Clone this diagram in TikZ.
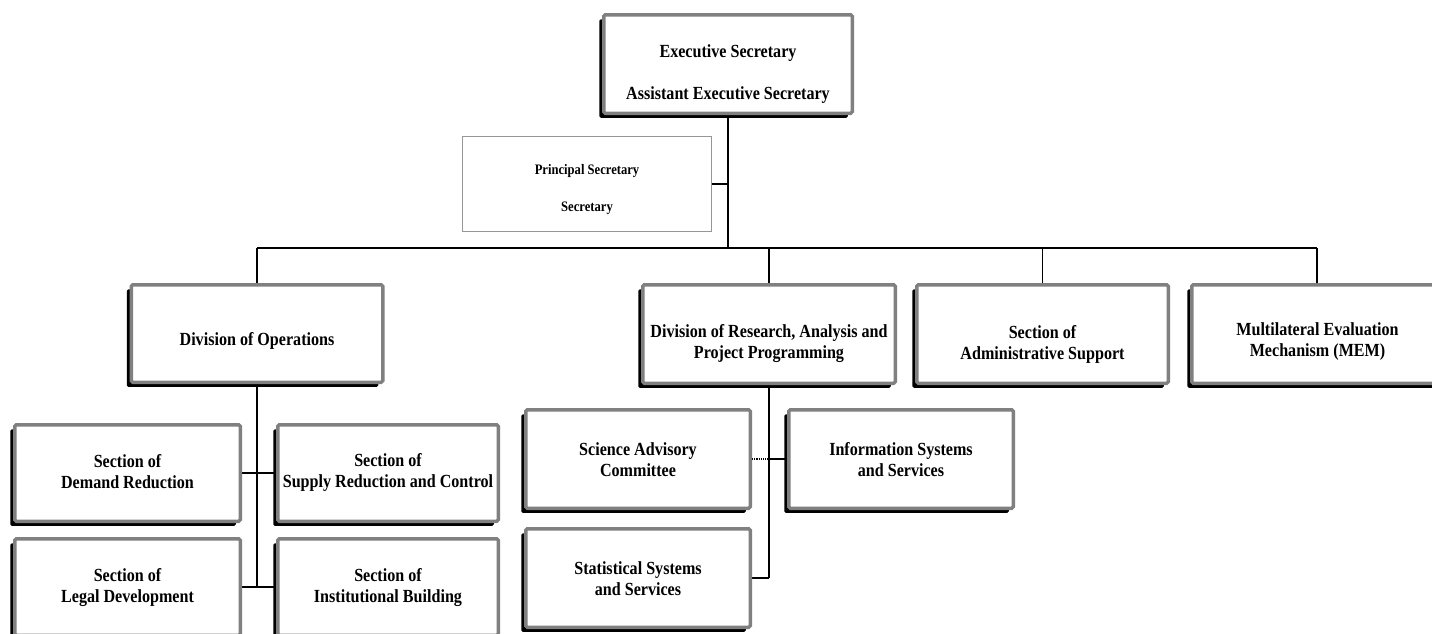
\documentclass[tikz,border=0pt]{standalone}
\usepackage{fontspec}
\setmainfont{Liberation Serif}[FakeStretch=0.87]
\usetikzlibrary{shadows,calc}
\pgfdeclarelayer{bg}
\pgfsetlayers{bg,main}
\definecolor{boxgray}{RGB}{128,128,128}
\definecolor{thingray}{RGB}{150,150,150}
\begin{document}
\begin{tikzpicture}[x=1pt,y=-1pt,
  obox/.style={draw=boxgray, line width=3.5pt, fill=white, rounded corners=1.5pt, inner sep=0pt,
     drop shadow={shadow xshift=-4.5pt, shadow yshift=-4.5pt, opacity=1, fill=black}},
  pbox/.style={draw=thingray, line width=1.2pt, fill=white, inner sep=0pt},
  txt/.style={font=\bfseries\fontsize{18.5}{21}\selectfont, align=center, inner sep=0pt},
  stxt/.style={font=\bfseries\fontsize{14.5}{16}\selectfont, align=center, inner sep=0pt},
  conn/.style={line width=1.2pt},
  trunk/.style={line width=1.8pt}]
\useasboundingbox (0,0) rectangle (1432,633);
\clip (0,0) rectangle (1432,633);

% boxes
\node[obox, minimum width=248.5pt, minimum height=98.5pt] (exec) at (728,64) {};
\node[pbox, minimum width=248.8pt, minimum height=94.8pt] (prin) at (587,184) {};
\node[obox, minimum width=251.5pt, minimum height=97.5pt] (divops) at (257,333.5) {};
\node[obox, minimum width=252.5pt, minimum height=98.5pt] (divres) at (769,334) {};
\node[obox, minimum width=251.5pt, minimum height=98.5pt] (admin) at (1042.5,334) {};
\node[obox, minimum width=251.5pt, minimum height=98.5pt] (mem) at (1317.5,334) {};
\node[obox, minimum width=225.5pt, minimum height=96.5pt] (demand) at (127.5,473) {};
\node[obox, minimum width=220.5pt, minimum height=96.5pt] (supply) at (388,473) {};
\node[obox, minimum width=225.5pt, minimum height=96.5pt] (legal) at (127.5,587) {};
\node[obox, minimum width=220.5pt, minimum height=96.5pt] (inst) at (388,587) {};
\node[obox, minimum width=224.5pt, minimum height=98.5pt] (science) at (638,459) {};
\node[obox, minimum width=224.5pt, minimum height=98.5pt] (info) at (901,459) {};
\node[obox, minimum width=224.5pt, minimum height=98.5pt] (stat) at (638,578) {};

% texts
\node[txt] (exec-t) at (728,74) {Executive Secretary\\[21pt]Assistant Executive Secretary};
\node[stxt] (prin-t) at (587,190) {Principal Secretary\\[21pt]Secretary};
\node[txt] (divops-t) at (257,341) {Division of Operations};
\node[txt] (divres-t) at (769,344) {Division of Research, Analysis and\\Project Programming};
\node[txt] (admin-t) at (1042.5,344) {Section of\\Administrative Support};
\node[txt] (mem-t) at (1317.5,341.5) {Multilateral Evaluation\\Mechanism (MEM)};
\node[txt] (demand-t) at (127.5,472) {Section of\\Demand Reduction};
\node[txt] (supply-t) at (388,472) {Section of\\Supply Reduction and Control};
\node[txt] (legal-t) at (127.5,587.5) {Section of\\Legal Development};
\node[txt] (inst-t) at (388,587.5) {Section of\\Institutional Building};
\node[txt] (science-t) at (638,459.5) {Science Advisory\\Committee};
\node[txt] (info-t) at (901,459.5) {Information Systems\\and Services};
\node[txt] (stat-t) at (638,578.5) {Statistical Systems\\and Services};

\coordinate (busL) at (257,248);
\coordinate (busR) at (1317,248);

\begin{pgfonlayer}{bg}
\draw[conn] (busL) -- (busR);
\draw[trunk] (exec.south) -- (exec.south |- busL);
\draw[conn] (prin.east) -- (prin.east -| exec.south);
\draw[conn] (busL) -- (divops.north);
\draw[conn] (divres.north |- busL) -- (divres.north);
\draw[conn] (admin.north |- busL) -- (admin.north);
\draw[conn] (busR) -- (busR |- mem.north);
\draw[trunk] (divops.south) -- (divops.south |- legal.east);
\draw[conn] (demand.east) -- (supply.west);
\draw[conn] (legal.east) -- (inst.west);
\draw[trunk] (divres.south) -- (divres.south |- stat.east);
\draw[conn, densely dotted] (science.east) -- (science.east -| divres.south);
\draw[conn] (science.east -| divres.south) -- (info.west);
\draw[conn] (stat.east) -- (stat.east -| divres.south);
\end{pgfonlayer}
\end{tikzpicture}
\end{document}
